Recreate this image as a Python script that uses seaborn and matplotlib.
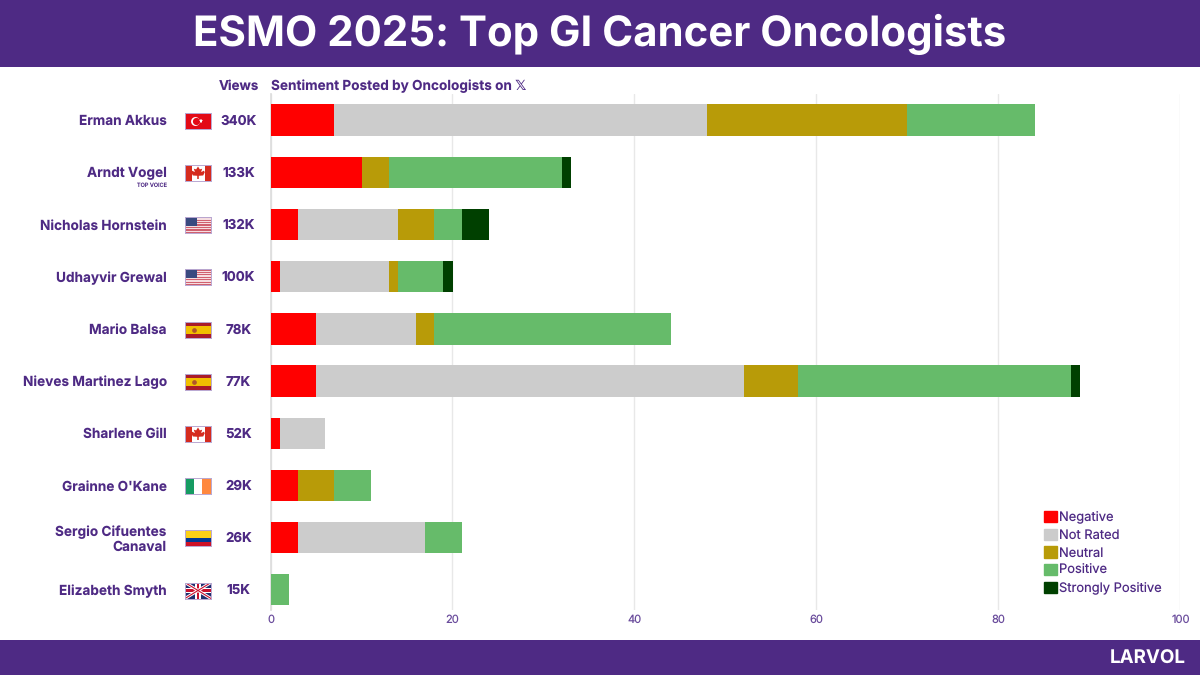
import numpy as np
import pandas as pd
import seaborn as sns
import matplotlib.pyplot as plt
from matplotlib.patches import Rectangle, Polygon
from matplotlib.transforms import blended_transform_factory

# data
names = ['Erman Akkus', 'Arndt Vogel', 'Nicholas Hornstein', 'Udhayvir Grewal', 'Mario Balsa',
         'Nieves Martinez Lago', 'Sharlene Gill', "Grainne O'Kane", 'Sergio Cifuentes\nCanaval', 'Elizabeth Smyth']
views = ['340K', '133K', '132K', '100K', '78K', '77K', '52K', '29K', '26K', '15K']
flags = ['TR', 'CA', 'US', 'US', 'ES', 'ES', 'CA', 'IE', 'CO', 'GB']
negative = [7, 10, 3, 1, 5, 5, 1, 3, 3, 0]
not_rated = [41, 0, 11, 12, 11, 47, 5, 0, 14, 0]
neutral = [22, 3, 4, 1, 2, 6, 0, 4, 0, 0]
positive = [14, 19, 3, 5, 26, 30, 0, 4, 4, 2]
strongly_positive = [0, 1, 3, 1, 0, 1, 0, 0, 0, 0]
sentiments = ['Negative', 'Not Rated', 'Neutral', 'Positive', 'Strongly Positive']
colors = ['#FF0000', '#CCCCCC', '#B89B08', '#66BB6A', '#004000']

PURPLE = '#4E2A84'
FONT = ['Inter', 'DejaVu Sans']
W, H = 1200, 675


def draw_flag(fig, code, y_px):
    '''Small flag in its own axes, y_px is the centre measured from the top.'''
    fa = fig.add_axes([185 / W, 1 - (y_px + 8) / H, 26 / W, 16 / H])
    fa.set_xlim(0, 1)
    fa.set_ylim(0, 1)
    fa.set_xticks([])
    fa.set_yticks([])
    for s in fa.spines.values():
        s.set_color('#B9A8D2')
        s.set_linewidth(0.7)

    def box(x, y, w, h, c):
        fa.add_patch(Rectangle((x, y), w, h, color=c, lw=0))

    if code == 'TR':
        box(0, 0, 1, 1, '#E30A17')
        fa.plot([0.37], [0.5], 'o', ms=6.4, color='white', mew=0)
        fa.plot([0.42], [0.5], 'o', ms=5.2, color='#E30A17', mew=0)
        fa.plot([0.6], [0.5], '*', ms=3.6, color='white', mew=0)
    elif code == 'CA':
        box(0, 0, 1, 1, 'white')
        box(0, 0, 0.25, 1, '#D52B1E')
        box(0.75, 0, 0.25, 1, '#D52B1E')
        leaf = [(0.5, 0.9), (0.57, 0.72), (0.66, 0.76), (0.62, 0.55), (0.73, 0.64), (0.76, 0.54),
                (0.7, 0.34), (0.53, 0.32), (0.53, 0.12), (0.47, 0.12), (0.47, 0.32), (0.3, 0.34),
                (0.24, 0.54), (0.27, 0.64), (0.38, 0.55), (0.34, 0.76), (0.43, 0.72)]
        fa.add_patch(Polygon(leaf, color='#D52B1E', lw=0))
    elif code == 'US':
        box(0, 0, 1, 1, '#F6DDE0')
        for i in range(0, 13, 2):
            box(0, i / 13, 1, 1 / 13, '#D0606F')
        box(0, 0.46, 0.45, 0.54, '#3A4A80')
    elif code == 'ES':
        box(0, 0, 1, 1, '#AA1B28')
        box(0, 0.25, 1, 0.5, '#F1BF00')
        fa.plot([0.33], [0.5], 'o', ms=3.4, color='#B0552A', mew=0)
    elif code == 'IE':
        box(0, 0, 1 / 3, 1, '#169B62')
        box(1 / 3, 0, 1 / 3, 1, 'white')
        box(2 / 3, 0, 1 / 3, 1, '#FF883E')
    elif code == 'CO':
        box(0, 0.5, 1, 0.5, '#FCD116')
        box(0, 0.25, 1, 0.25, '#003893')
        box(0, 0, 1, 0.25, '#CE1126')
    elif code == 'GB':
        box(0, 0, 1, 1, '#1F2F6E')
        fa.plot([0, 1], [0, 1], color='white', lw=2.2)
        fa.plot([0, 1], [1, 0], color='white', lw=2.2)
        fa.plot([0, 1], [0, 1], color='#C8102E', lw=0.8)
        fa.plot([0, 1], [1, 0], color='#C8102E', lw=0.8)
        box(0.4, 0, 0.2, 1, 'white')
        box(0, 0.33, 1, 0.34, 'white')
        box(0.45, 0, 0.1, 1, '#C8102E')
        box(0, 0.41, 1, 0.18, '#C8102E')


def main():
    sns.set_theme(style='white')
    plt.rcParams['font.family'] = FONT
    plt.rcParams['text.hinting'] = 'no_hinting'
    plt.rcParams['text.hinting_factor'] = 1

    df = pd.DataFrame({'name': names, 'Negative': negative, 'Not Rated': not_rated, 'Neutral': neutral,
                       'Positive': positive, 'Strongly Positive': strongly_positive})

    fig = plt.figure(figsize=(12, 6.75), dpi=100, facecolor='white')
    ax = fig.add_axes([270.5 / W, 1 - 610 / H, 910 / W, (610 - 94) / H])

    left = np.zeros(len(names))
    for sentiment, color in zip(sentiments, colors):
        sns.barplot(data=df, y='name', x=sentiment, left=left, color=color, width=0.6,
                    saturation=1, orient='y', ax=ax, errorbar=None, label=sentiment,
                    linewidth=0, zorder=3, legend=False)
        left = left + df[sentiment].to_numpy()

    ax.set_xlim(0, 100)
    ax.set_ylim((610 - 120) / 52.2, -0.5)
    ax.set_xlabel('')
    ax.set_ylabel('')
    ax.set_xticks(range(0, 101, 20))
    ax.grid(axis='x', color='#E8E8E8', lw=1, zorder=0)
    ax.set_axisbelow(True)
    sns.despine(ax=ax, top=True, right=True, bottom=True, left=False)
    ax.spines['left'].set_color('#DDDDDD')
    ax.tick_params(axis='x', length=0, pad=3, labelsize=8, labelcolor='#6A4C9C')
    ax.tick_params(axis='y', length=0, pad=74.7, labelsize=9.8, labelcolor=PURPLE)
    for lab in ax.get_yticklabels():
        lab.set_fontweight('bold')
        lab.set_linespacing(1.15)
        lab.set_ha('right')
        lab.set_multialignment('right')

    # views column and the flags, lined up with the bars
    tr = blended_transform_factory(fig.transFigure, ax.transData)
    for i, v in enumerate(views):
        ax.text(238.5 / W, i + 0.02, v, transform=tr, ha='center', va='center', fontsize=9.6,
                fontweight='bold', color=PURPLE, clip_on=False)
    ax.text(167 / W, 1.25, 'TOP VOICE', transform=tr, ha='right', va='center', fontsize=4,
            color=PURPLE, clip_on=False)
    for i, code in enumerate(flags):
        draw_flag(fig, code, 120.7 + 52.2 * i)

    ax.legend(handles=[Rectangle((0, 0), 1, 1, color=c) for c in colors], labels=sentiments,
              loc='upper left', bbox_to_anchor=(1044 / W, 1 - 511 / H), bbox_transform=fig.transFigure,
              frameon=False, fontsize=9.3, labelcolor=PURPLE, handlelength=0.97, handleheight=0.97,
              handletextpad=0.2, labelspacing=0.38, borderpad=0, borderaxespad=0)

    # header and footer bands
    fig.add_artist(Rectangle((0, 1 - 67 / H), 1, 67 / H, transform=fig.transFigure, color=PURPLE, lw=0))
    fig.add_artist(Rectangle((0, 0), 1, 35 / H, transform=fig.transFigure, color=PURPLE, lw=0))
    fig.text(0.5, 1 - 34 / H, 'ESMO 2025: Top GI Cancer Oncologists', ha='center', va='center',
             fontsize=30.2, fontweight='bold', color='white')
    fig.text(1186 / W, 1 - 659 / H, 'LARVOL', ha='right', va='center', fontsize=13.5,
             fontweight='bold', color='white')
    fig.text(259 / W, 1 - 86 / H, 'Views', ha='right', va='center', fontsize=9.6,
             fontweight='bold', color=PURPLE)
    fig.text(271 / W, 1 - 86 / H, 'Sentiment Posted by Oncologists on \U0001D54F', ha='left', va='center',
             fontsize=9.8, fontweight='bold', color=PURPLE)

    fig.savefig('out.png', dpi=100)


if __name__ == '__main__':
    main()
